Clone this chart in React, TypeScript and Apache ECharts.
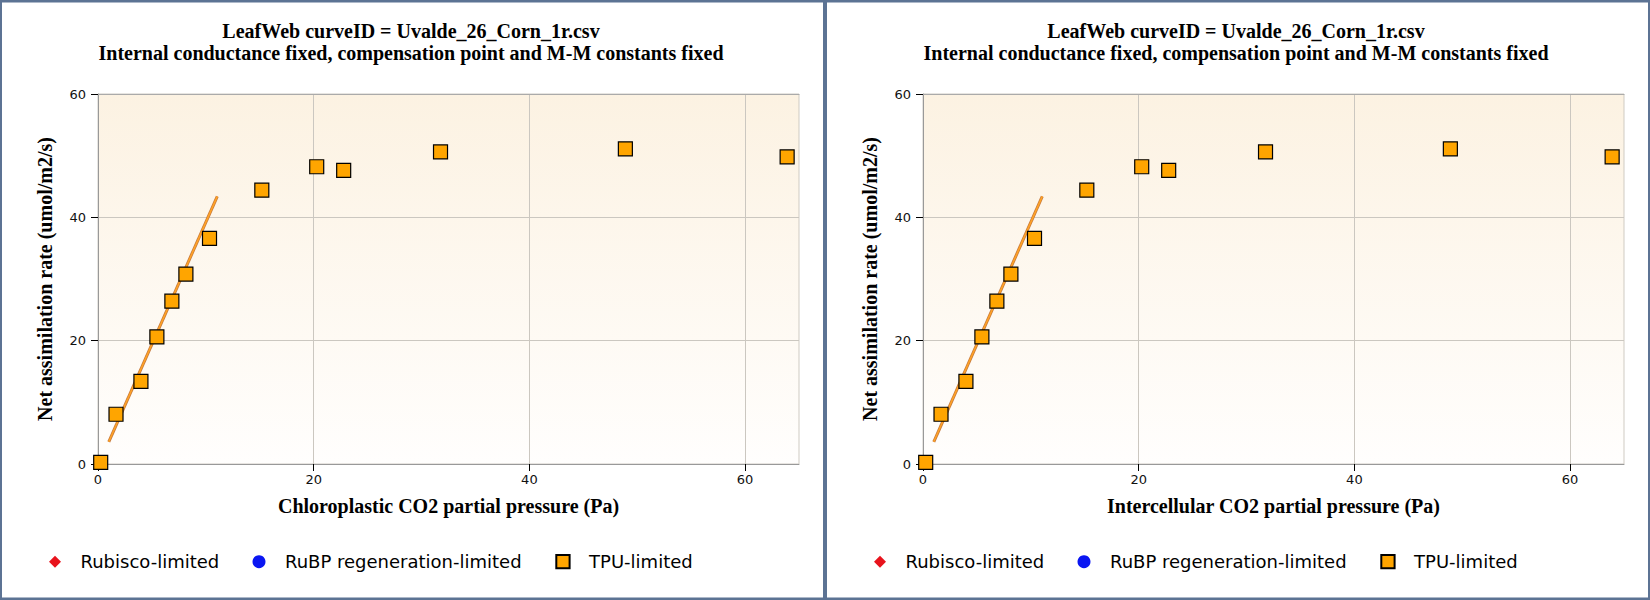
import React, { useEffect, useRef } from "react";
import * as echarts from "echarts";

// ---- data ----
const ciValues = [0.25, 1.67, 3.98, 5.46, 6.85, 8.15, 10.34, 15.19, 20.28, 22.78, 31.76, 48.9, 63.9];
const anValues = [0.27, 8.07, 13.4, 20.6, 26.4, 30.8, 36.6, 44.4, 48.2, 47.6, 50.6, 51.1, 49.8];
const fitCi = [1.0, 11.06];
const fitAn = [3.6, 43.4];
const xTicks = [0, 20, 40, 60];
const yTicks = [0, 20, 40, 60];
const legendNames = ["Rubisco-limited", "RuBP regeneration-limited", "TPU-limited"];
const titleLine1 = "LeafWeb curveID = Uvalde_26_Corn_1r.csv";
const titleLine2 = "Internal conductance fixed, compensation point and M-M constants fixed";
const xNames = ["Chloroplastic CO2 partial pressure (Pa)", "Intercellular CO2 partial pressure (Pa)"];
const yName = "Net assimilation rate (umol/m2/s)";

const W = 1650;
const H = 600;
const PANEL_OFFSET = 825;
const BORDER = "#5c7394";
const SERIF = "'Liberation Serif', 'Times New Roman', serif";
const SANS = "'DejaVu Sans', Verdana, sans-serif";

function buildOption() {
  const offsets = [0, PANEL_OFFSET];
  const bg = new echarts.graphic.LinearGradient(0, 0, 0, 1, [
    { offset: 0, color: "#fcf2e2" },
    { offset: 1, color: "#fffefd" },
  ]);
  const grid = offsets.map((o) => ({
    left: 98 + o,
    top: 94,
    width: 701,
    height: 370,
    show: true,
    backgroundColor: bg,
    borderColor: "#cfcbc3",
    borderWidth: 1,
  }));
  const nameStyle = { fontFamily: SERIF, fontWeight: "bold", fontSize: 20, color: "#000" };
  const labelStyle = { fontFamily: SANS, fontSize: 13, color: "#111" };
  const xAxis: any[] = offsets.map((_, i) => ({
    type: "value",
    gridIndex: i,
    min: 0,
    max: 65,
    interval: 20,
    name: xNames[i],
    nameLocation: "middle",
    nameGap: 32,
    nameTextStyle: nameStyle,
    axisLine: { show: true, onZero: false, lineStyle: { color: "#999", width: 1 } },
    axisTick: { show: true, length: 7, customValues: xTicks, lineStyle: { color: "#000" } },
    axisLabel: { margin: 9, customValues: xTicks, ...labelStyle },
    splitLine: { show: true, lineStyle: { color: "#cbc7c0" } },
  }));
  offsets.forEach((_, i) => {
    xAxis.push({
      type: "value",
      gridIndex: i,
      position: "top",
      min: 0,
      max: 65,
      axisLine: { show: true, onZero: false, lineStyle: { color: "#aaa" } },
      axisTick: { show: false },
      axisLabel: { show: false },
      splitLine: { show: false },
    });
  });
  const yAxis = offsets.map((_, i) => ({
    type: "value",
    gridIndex: i,
    min: 0,
    max: 60,
    interval: 20,
    name: yName,
    nameLocation: "middle",
    nameGap: 43,
    nameTextStyle: nameStyle,
    axisLine: { show: true, onZero: false, lineStyle: { color: "#999", width: 1 } },
    axisTick: { show: true, length: 7, customValues: yTicks, lineStyle: { color: "#000" } },
    axisLabel: { margin: 12, customValues: yTicks, ...labelStyle },
    splitLine: { show: true, lineStyle: { color: "#cbc7c0" } },
  }));

  const points = ciValues.map((x, k) => [x, anValues[k]]);
  const fit = fitCi.map((x, k) => [x, fitAn[k]]);
  const series: any[] = [];
  offsets.forEach((_, i) => {
    series.push(
      {
        name: legendNames[0],
        type: "scatter",
        xAxisIndex: i,
        yAxisIndex: i,
        symbol: "diamond",
        itemStyle: { color: "#e8131c", opacity: 1 },
        data: [],
      },
      {
        name: legendNames[1],
        type: "scatter",
        xAxisIndex: i,
        yAxisIndex: i,
        symbol: "circle",
        itemStyle: { color: "#0a16f2", opacity: 1 },
        data: [],
      },
      {
        name: "fit-under",
        type: "line",
        xAxisIndex: i,
        yAxisIndex: i,
        showSymbol: false,
        silent: true,
        z: 2,
        lineStyle: { color: "#c4783c", width: 3 },
        data: fit,
      },
      {
        name: "fit",
        type: "line",
        xAxisIndex: i,
        yAxisIndex: i,
        showSymbol: false,
        silent: true,
        z: 3,
        lineStyle: { color: "#ffa226", width: 1.6 },
        data: fit,
      },
      {
        name: legendNames[2],
        type: "scatter",
        xAxisIndex: i,
        yAxisIndex: i,
        symbol: "rect",
        symbolSize: 14,
        z: 5,
        itemStyle: { color: "#FFA500", borderColor: "#000", borderWidth: 1.2, opacity: 1 },
        data: points,
      }
    );
  });

  const legendDefs = [
    { name: legendNames[0], icon: "diamond", left: 49, size: 12 },
    { name: legendNames[1], icon: "circle", left: 252.5, size: 13 },
    { name: legendNames[2], icon: "rect", left: 555.3, size: 13.3 },
  ];
  const legend: any[] = [];
  offsets.forEach((o) => {
    legendDefs.forEach((d) => {
      legend.push({
        data: [{ name: d.name, icon: d.icon }],
        left: d.left + o,
        top: 551.7,
        padding: 0,
        itemWidth: d.size,
        itemHeight: d.size,
        selectedMode: false,
        textStyle: {
          fontFamily: SANS,
          fontSize: 18,
          color: "#000",
          lineHeight: 20,
          padding: [0, 0, 0, 14.5],
        },
      });
    });
  });

  const graphic: any[] = [];
  offsets.forEach((o) => {
    graphic.push(
      {
        type: "text",
        x: 411 + o,
        y: 30.7,
        style: { text: titleLine1, fill: "#000", font: `bold 20px ${SERIF}`, textAlign: "center", textVerticalAlign: "middle" },
      },
      {
        type: "text",
        x: 411 + o,
        y: 53.3,
        style: { text: titleLine2, fill: "#000", font: `bold 20px ${SERIF}`, textAlign: "center", textVerticalAlign: "middle" },
      }
    );
  });
  // frame
  graphic.push(
    { type: "rect", shape: { x: 0, y: 0, width: W, height: 2.5 }, style: { fill: BORDER }, silent: true },
    { type: "rect", shape: { x: 0, y: 597.5, width: W, height: 2.5 }, style: { fill: BORDER }, silent: true },
    { type: "rect", shape: { x: 0, y: 0, width: 2, height: H }, style: { fill: BORDER }, silent: true },
    { type: "rect", shape: { x: 1648, y: 0, width: 2, height: H }, style: { fill: BORDER }, silent: true },
    { type: "rect", shape: { x: 823, y: 0, width: 4, height: H }, style: { fill: BORDER }, silent: true }
  );

  return {
    animation: false,
    backgroundColor: "#ffffff",
    grid,
    xAxis,
    yAxis,
    series,
    legend,
    graphic,
  };
}

export default function App() {
  const ref = useRef<HTMLDivElement>(null);
  useEffect(() => {
    if (!ref.current) return;
    const chart = echarts.init(ref.current, undefined, { renderer: "svg" });
    chart.setOption(buildOption() as any);
    return () => chart.dispose();
  }, []);
  return (
    <div
      ref={ref}
      style={{ position: "absolute", left: 0, top: 0, width: W, height: H }}
    />
  );
}
